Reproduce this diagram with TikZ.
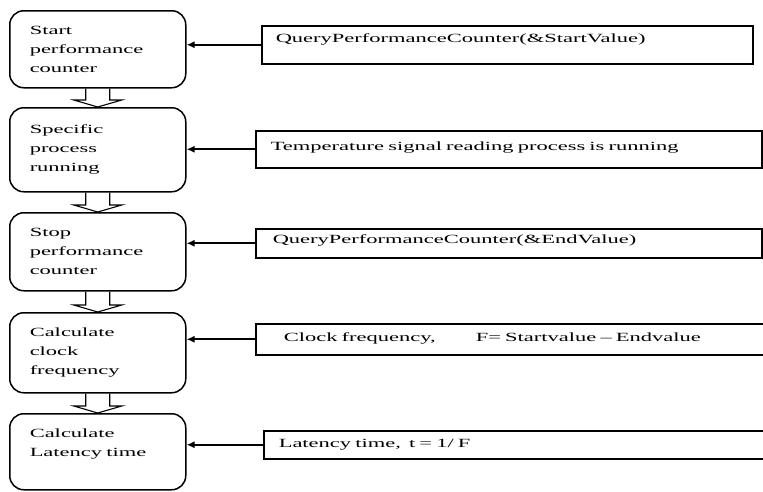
\documentclass[tikz,border=0pt]{standalone}
\usepackage{fontspec}
\setmainfont{Liberation Serif}[FakeStretch=1.8]
\usetikzlibrary{arrows.meta,calc,positioning}

\begin{document}
\begin{tikzpicture}[x=1pt, y=-1pt,
    stepbox/.style={rectangle, draw, rounded corners=14pt, line width=1.5pt, anchor=north west, minimum width=176pt, text width=136pt, inner xsep=20pt, align=left, font=\fontsize{12.5}{19}\selectfont},
    call/.style={rectangle, draw, line width=1.5pt, anchor=north west, inner ysep=0pt, inner xsep=15pt, align=left, font=\fontsize{12.5}{15}\selectfont},
    arrow/.style={-{Latex[length=8pt,width=7pt]}, line width=2pt},
    hollow/.style={draw, line width=1.1pt}]

    \useasboundingbox (0,0) rectangle (763,491);

    % Steps on the left
    \node[stepbox, minimum height=77pt] (s1) at (9,10) {Start\\performance\\counter};
    \node[stepbox, minimum height=84pt] (s2) at (9,107) {Specific\\process\\running};
    \node[stepbox, minimum height=78pt] (s3) at (9,212) {Stop\\performance\\counter};
    \node[stepbox, minimum height=80pt] (s4) at (9,312) {Calculate\\clock\\frequency};
    \node[stepbox, minimum height=76pt] (s5) at (9,413) {Calculate\\Latency time\\~};

    % Calls and formulas on the right
    \node[call, text width=463pt, inner xsep=14pt, text height=17pt, text depth=21pt] (r1) at (261,25) {QueryPerformanceCounter(\&StartValue)};
    \node[call, text width=476pt, text height=20pt, text depth=17pt] (r2) at (255,130) {Temperature signal reading process is running};
    \node[call, text width=472pt, inner xsep=17pt, text height=15pt, text depth=14pt] (r3) at (255,228) {QueryPerformanceCounter(\&EndValue)};
    \node[call, text width=464pt, inner xsep=28pt, text height=18pt, text depth=13pt] (r4) at (255,323) {Clock frequency,\hspace{40pt}F= Startvalue – Endvalue};
    \node[call, text width=482pt, text height=17pt, text depth=11pt] (r5) at (263,430) {Latency time,\hspace{8pt}t = 1/ F};

    % Hollow arrows between steps
    \draw[hollow] ($(s1.south)+(-12,0)$) -- ($(s2.north)+(-12,-7)$) -- ++(-12,0) -- (s2.north) -- ++(24,-7) -- ++(-12,0) -- ($(s1.south)+(12,0)$);
    \draw[hollow] ($(s2.south)+(-12,0)$) -- ($(s3.north)+(-12,-7)$) -- ++(-12,0) -- (s3.north) -- ++(24,-7) -- ++(-12,0) -- ($(s2.south)+(12,0)$);
    \draw[hollow] ($(s3.south)+(-12,0)$) -- ($(s4.north)+(-12,-7)$) -- ++(-12,0) -- (s4.north) -- ++(24,-7) -- ++(-12,0) -- ($(s3.south)+(12,0)$);
    \draw[hollow] ($(s4.south)+(-12,0)$) -- ($(s5.north)+(-12,-7)$) -- ++(-12,0) -- (s5.north) -- ++(24,-7) -- ++(-12,0) -- ($(s4.south)+(12,0)$);

    % Connections into the steps
    \draw[arrow] (r1) -- (r1 -| s1.east);
    \draw[arrow] (r2) -- (r2 -| s2.east);
    \draw[arrow] (r3) -- (r3 -| s3.east);
    \draw[arrow] (r4) -- (r4 -| s4.east);
    \draw[arrow] (r5) -- (r5 -| s5.east);
\end{tikzpicture}
\end{document}
